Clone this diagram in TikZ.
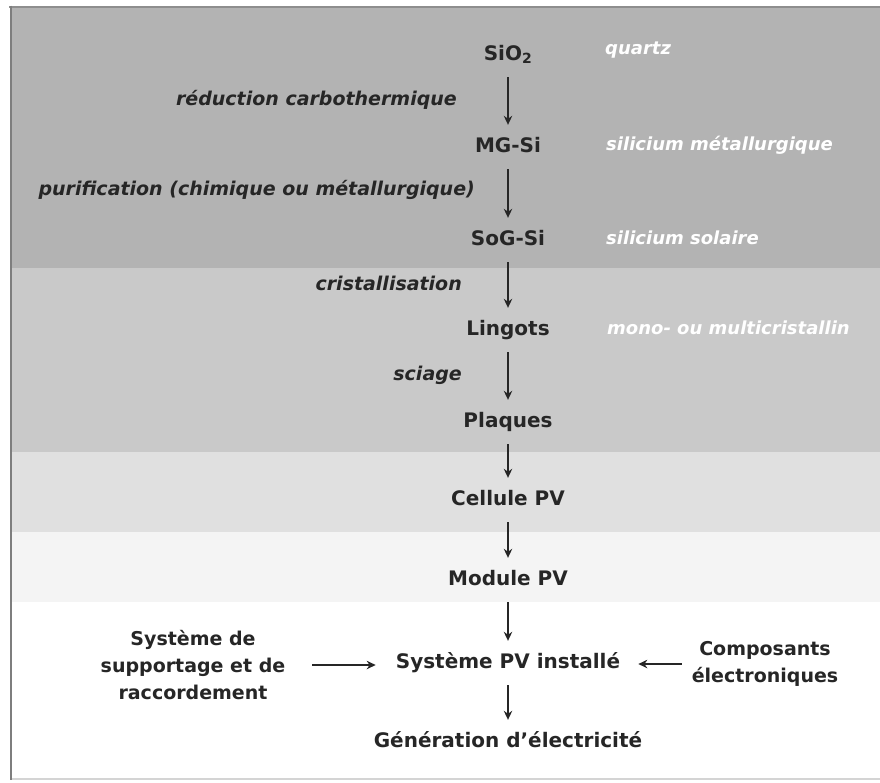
\documentclass[tikz,border=0pt]{standalone}
\usepackage{fontspec}
\setmainfont{DejaVu Sans}
\usetikzlibrary{arrows.meta}
\definecolor{bandA}{HTML}{B3B3B3}
\definecolor{bandB}{HTML}{C9C9C9}
\definecolor{bandC}{HTML}{E0E0E0}
\definecolor{bandD}{HTML}{F4F4F4}
\definecolor{txt}{HTML}{262626}
\definecolor{frameL}{HTML}{7E7E7E}
\definecolor{frameT}{HTML}{8E8E8E}
\definecolor{frameB}{HTML}{D4D4D4}
\begin{document}
\begin{tikzpicture}[x=1pt,y=-1pt,
  main/.style={font=\fontsize{20}{24}\selectfont\bfseries, text=txt, text height=15pt, text depth=5pt, inner ysep=12pt, inner xsep=6pt},
  proc/.style={font=\fontsize{19}{23}\selectfont\bfseries\itshape, text=txt, anchor=east, inner sep=0pt},
  note/.style={font=\fontsize{18}{22}\selectfont\bfseries\itshape, text=white, anchor=west, inner sep=0pt},
  side/.style={font=\fontsize{19}{27}\selectfont\bfseries, text=txt, align=center, inner xsep=6pt},
  arr/.style={-{Stealth[length=9pt,width=8.5pt]}, line width=1.3pt, draw=txt}]
\useasboundingbox (0,0) rectangle (880,782);
% background bands
\fill[white] (0,0) rectangle (880,782);
\fill[bandA] (11,7) rectangle (880,268);
\fill[bandB] (11,268) rectangle (880,452);
\fill[bandC] (11,452) rectangle (880,532);
\fill[bandD] (11,532) rectangle (880,602);
\draw[frameB, line width=1.5pt] (11,779) -- (880,779);
\draw[frameT, line width=2pt] (9,6.5) -- (880,6.5);
\draw[frameL, line width=2pt] (10.5,5.5) -- (10.5,780);

% main chain
\node[main] (sio)  at (508,55)  {SiO\textsubscript{2}};
\node[main] (mg)   at (508,147) {MG-Si};
\node[main] (sog)  at (508,240) {SoG-Si};
\node[main] (lin)  at (508,330) {Lingots};
\node[main] (pla)  at (508,422) {Plaques};
\node[main] (cel)  at (508,500) {Cellule PV};
\node[main] (mod)  at (508,580) {Module PV};
\node[main] (sys)  at (508,663) {Système PV installé};
\node[main] (gen)  at (508,742) {Génération d'électricité};

% side inputs
\node[side] (sup)  at (193,665) {Système de\\supportage et de\\raccordement};
\node[side] (comp) at (765,664) {Composants\\électroniques};

% process labels
\node[proc] (p1) at (457,100) {réduction carbothermique};
\node[proc] (p2) at (475,190) {purification (chimique ou métallurgique)};
\node[proc] (p3) at (462,283) {cristallisation};
\node[proc] (p4) at (462,375) {sciage};

% material notes
\node[note] (n1) at (605,50)  {quartz};
\node[note] (n2) at (606,145) {silicium métallurgique};
\node[note] (n3) at (606,238) {silicium solaire};
\node[note] (n4) at (607,328) {mono- ou multicristallin};

% arrows
\draw[arr] (sio.south) -- (mg.north);
\draw[arr] (mg.south) -- (sog.north);
\draw[arr] (sog.south) -- (lin.north);
\draw[arr] (lin.south) -- (pla.north);
\draw[arr] (pla.south) -- (cel.north);
\draw[arr] (cel.south) -- (mod.north);
\draw[arr] (mod.south) -- (sys.north);
\draw[arr] (sys.south) -- (gen.north);
\draw[arr, shorten <=21pt, shorten >=14pt] (sup.east) -- (sup.east -| sys.west);
\draw[arr, shorten <=4pt, shorten >=12pt] (comp.west) -- (comp.west -| sys.east);
\end{tikzpicture}
\end{document}
